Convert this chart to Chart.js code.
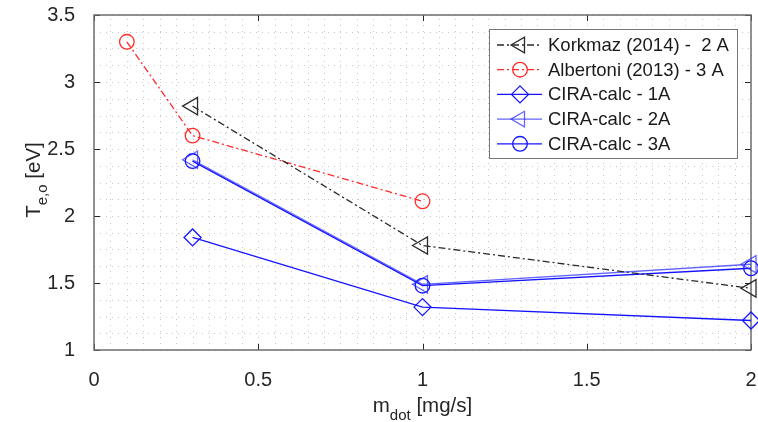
<!DOCTYPE html>
<html>
<head>
<meta charset="utf-8">
<script src="https://cdn.jsdelivr.net/npm/chart.js@4.4.1/dist/chart.umd.min.js"></script>
<style>
  html, body { margin: 0; padding: 0; background: #fff; }
</style>
</head>
<body>
<canvas id="chart" width="758" height="422"></canvas>
<script>
const FONT = '"Liberation Sans", Arial, Helvetica, sans-serif';

// data
const korkmazX = [0.3, 1, 2];
const korkmazY = [2.82, 1.78, 1.46];
const albertoniX = [0.1, 0.3, 1];
const albertoniY = [3.30, 2.60, 2.11];
const ciraX = [0.3, 1, 2];
const cira1A = [1.84, 1.32, 1.22];
const cira2A = [2.42, 1.49, 1.64];
const cira3A = [2.41, 1.48, 1.61];

const xTicks = [0, 0.5, 1, 1.5, 2];
const yTicks = [1, 1.5, 2, 2.5, 3, 3.5];

const pts = (xs, ys) => xs.map((x, i) => ({ x: x, y: ys[i] }));
const isMajor = (v, list) => list.some(t => Math.abs(t - v) < 1e-6);

const dashDot = [7, 3, 2, 3];

const datasets = [
  {
    label: 'Korkmaz (2014) -  2 A',
    data: pts(korkmazX, korkmazY),
    borderColor: '#2a2a2a',
    borderDash: dashDot,
    pointStyle: 'triangle', pointRotation: -90, pointRadius: 10
  },
  {
    label: 'Albertoni (2013) - 3 A',
    data: pts(albertoniX, albertoniY),
    borderColor: '#ff2b2b',
    borderDash: dashDot,
    pointStyle: 'circle', pointRadius: 7.3
  },
  {
    label: 'CIRA-calc - 1A',
    data: pts(ciraX, cira1A),
    borderColor: '#1414ff',
    pointStyle: 'rectRot', pointRadius: 8.5
  },
  {
    label: 'CIRA-calc - 2A',
    data: pts(ciraX, cira2A),
    borderColor: 'rgba(40,40,255,0.72)',
    pointStyle: 'triangle', pointRotation: -90, pointRadius: 10
  },
  {
    label: 'CIRA-calc - 3A',
    data: pts(ciraX, cira3A),
    borderColor: '#1414ff',
    pointStyle: 'circle', pointRadius: 7.3
  }
].map(d => Object.assign({
  showLine: true,
  fill: false,
  tension: 0,
  borderWidth: 1.3,
  pointBorderColor: d.borderColor,
  pointBackgroundColor: 'rgba(0,0,0,0)',
  pointBorderWidth: 1.3,
  pointHoverRadius: d.pointRadius,
  clip: false,
  borderDash: []
}, d));

// dotted grid on every generated tick, then the axes box with inward ticks
const boxPlugin = {
  id: 'box',
  beforeDatasetsDraw(chart) {
    const ctx = chart.ctx;
    const a = chart.chartArea;
    const xs = chart.scales.x, ys = chart.scales.y;
    ctx.save();
    ctx.strokeStyle = '#c8c8c8';
    ctx.lineWidth = 1;
    ctx.setLineDash([1, 5]);
    ctx.beginPath();
    xs.ticks.forEach(t => {
      const px = Math.round(xs.getPixelForValue(t.value)) + 0.5;
      ctx.moveTo(px, a.bottom); ctx.lineTo(px, a.top);
    });
    ys.ticks.forEach(t => {
      const py = Math.round(ys.getPixelForValue(t.value)) + 0.5;
      ctx.moveTo(a.left, py); ctx.lineTo(a.right, py);
    });
    ctx.stroke();
    ctx.setLineDash([]);

    ctx.strokeStyle = '#262626';
    ctx.lineWidth = 1;
    ctx.beginPath();
    xTicks.forEach(v => {
      const px = Math.round(xs.getPixelForValue(v)) + 0.5;
      ctx.moveTo(px, a.bottom); ctx.lineTo(px, a.bottom - 6);
      ctx.moveTo(px, a.top); ctx.lineTo(px, a.top + 6);
    });
    yTicks.forEach(v => {
      const py = Math.round(ys.getPixelForValue(v)) + 0.5;
      ctx.moveTo(a.left, py); ctx.lineTo(a.left + 6, py);
      ctx.moveTo(a.right, py); ctx.lineTo(a.right - 6, py);
    });
    ctx.stroke();
    ctx.strokeStyle = '#6e6e6e';
    ctx.lineWidth = 1.5;
    ctx.strokeRect(a.left, a.top, a.right - a.left, a.bottom - a.top);
    ctx.restore();
  }
};

function drawMarker(ctx, style, x, y, r) {
  ctx.beginPath();
  if (style === 'circle') {
    ctx.arc(x, y, r, 0, Math.PI * 2);
  } else if (style === 'rectRot') {
    ctx.moveTo(x, y - r); ctx.lineTo(x + r, y); ctx.lineTo(x, y + r); ctx.lineTo(x - r, y);
    ctx.closePath();
  } else {
    ctx.moveTo(x - r, y);
    ctx.lineTo(x + r / 2, y - r * Math.sqrt(3) / 2);
    ctx.lineTo(x + r / 2, y + r * Math.sqrt(3) / 2);
    ctx.closePath();
  }
  ctx.stroke();
}

// legend box in the upper right, MATLAB style
const legendPlugin = {
  id: 'matLegend',
  afterDraw(chart) {
    const ctx = chart.ctx;
    const bx = 489, by = 29, bw = 248, bh = 129;
    ctx.save();
    ctx.fillStyle = '#fff';
    ctx.fillRect(bx, by, bw, bh);
    ctx.strokeStyle = '#777';
    ctx.lineWidth = 1;
    ctx.strokeRect(bx + 0.5, by + 0.5, bw, bh);
    chart.data.datasets.forEach((d, i) => {
      const cy = 45 + i * 24.7;
      ctx.strokeStyle = d.borderColor;
      ctx.lineWidth = 1.3;
      ctx.setLineDash(d.borderDash);
      ctx.beginPath();
      ctx.moveTo(497, cy); ctx.lineTo(542, cy);
      ctx.stroke();
      ctx.setLineDash([]);
      drawMarker(ctx, d.pointStyle, 520, cy, d.pointStyle === 'triangle' ? 9 : d.pointRadius);
      ctx.fillStyle = '#1a1a1a';
      ctx.font = '18.5px ' + FONT;
      ctx.textBaseline = 'middle';
      ctx.textAlign = 'left';
      ctx.fillText(d.label, 548, cy + 1);
    });
    ctx.restore();
  }
};

// axis titles with subscripts
function subText(ctx, parts, x, y) {
  let w = 0;
  parts.forEach(p => { ctx.font = p.size + 'px ' + FONT; w += ctx.measureText(p.t).width; });
  let cx = x - w / 2;
  parts.forEach(p => {
    ctx.font = p.size + 'px ' + FONT;
    ctx.fillText(p.t, cx, y + (p.dy || 0));
    cx += ctx.measureText(p.t).width;
  });
}

const titlePlugin = {
  id: 'titles',
  afterDraw(chart) {
    const ctx = chart.ctx;
    const a = chart.chartArea;
    ctx.save();
    ctx.fillStyle = '#262626';
    ctx.textAlign = 'left';
    ctx.textBaseline = 'alphabetic';
    subText(ctx, [
      { t: 'm', size: 20.5 },
      { t: 'dot', size: 15, dy: 8 },
      { t: ' [mg/s]', size: 20.5 }
    ], (a.left + a.right) / 2, 412);
    ctx.translate(40, 180);
    ctx.rotate(-Math.PI / 2);
    subText(ctx, [
      { t: 'T', size: 20.5 },
      { t: 'e,o', size: 15, dy: 7 },
      { t: ' [eV]', size: 20.5 }
    ], 0, 0);
    ctx.restore();
  }
};

const noPad = s => { s.paddingTop = 0; s.paddingBottom = 0; s.paddingLeft = 0; s.paddingRight = 0; };

new Chart(document.getElementById('chart').getContext('2d'), {
  type: 'scatter',
  data: { datasets: datasets },
  options: {
    responsive: false,
    animation: false,
    layout: { autoPadding: false, padding: { top: 15, right: 7, left: 0, bottom: 0 } },
    plugins: { legend: { display: false }, tooltip: { enabled: false } },
    scales: {
      x: {
        type: 'linear', min: 0, max: 2,
        grid: { display: false },
        border: { display: false },
        ticks: {
          stepSize: 0.05, autoSkip: false, maxRotation: 0, minRotation: 0,
          padding: 10, color: '#262626', font: { family: FONT, size: 20 },
          callback: v => isMajor(v, xTicks) ? String(+v.toFixed(2)) : ''
        },
        afterFit: s => { s.height = 72; noPad(s); }
      },
      y: {
        type: 'linear', min: 1, max: 3.5,
        grid: { display: false },
        border: { display: false },
        ticks: {
          stepSize: 0.125, autoSkip: false,
          padding: 11, color: '#262626', font: { family: FONT, size: 20 },
          callback: v => isMajor(v, yTicks) ? String(+v.toFixed(2)) : ''
        },
        afterFit: s => { s.width = 94; noPad(s); }
      }
    }
  },
  plugins: [boxPlugin, legendPlugin, titlePlugin]
});
</script>
</body>
</html>
